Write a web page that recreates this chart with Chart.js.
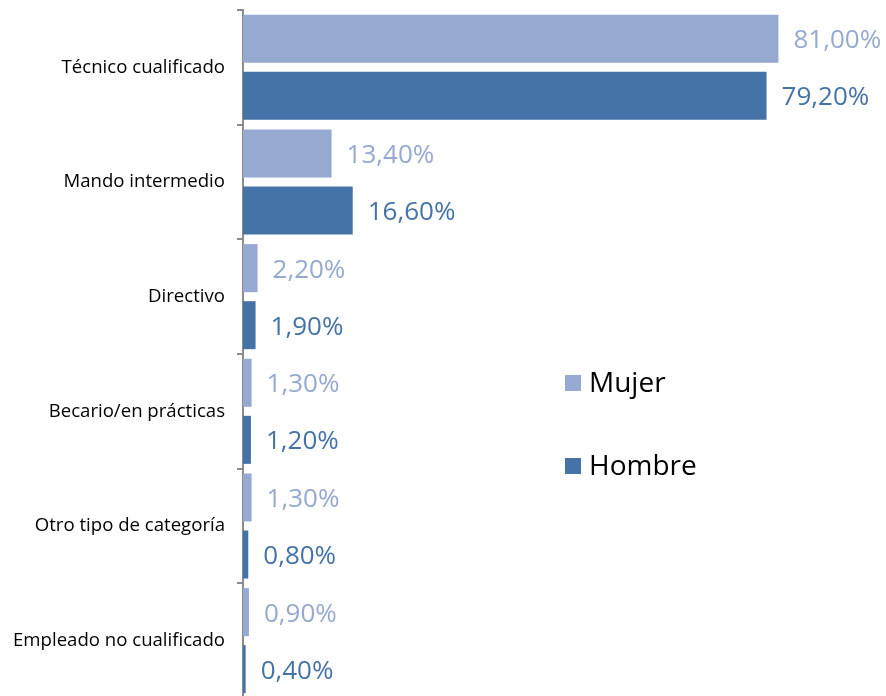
<!DOCTYPE html>
<html>
<head>
<meta charset="utf-8">
<script src="https://cdn.jsdelivr.net/npm/chart.js@4/dist/chart.umd.min.js"></script>
<style>
html,body{margin:0;padding:0;background:#fff;overflow:hidden;}
#wrap{position:relative;width:886px;height:700px;}
</style>
</head>
<body>
<div id="wrap"><canvas id="c"></canvas></div>
<script>
const categories = ["Técnico cualificado","Mando intermedio","Directivo","Becario/en prácticas","Otro tipo de categoría","Empleado no cualificado"];
const mujer = [81.0, 13.4, 2.2, 1.3, 1.3, 0.9];
const hombre = [79.2, 16.6, 1.9, 1.2, 0.8, 0.4];
const seriesNames = ["Mujer","Hombre"];
const colors = ["#95A9D1","#4573A7"];

const fmt = v => v.toFixed(2).replace('.', ',') + '%';

const labelPlugin = {
  id: 'valLabels',
  afterDatasetsDraw(chart) {
    const ctx = chart.ctx;
    ctx.save();
    ctx.font = '26px "Open Sans"';
    ctx.textBaseline = 'middle';
    ctx.textAlign = 'left';
    chart.data.datasets.forEach((ds, i) => {
      const meta = chart.getDatasetMeta(i);
      ctx.fillStyle = ds.backgroundColor;
      meta.data.forEach((bar, j) => {
        ctx.fillText(fmt(ds.data[j]), bar.x + 15, bar.y + 2);
      });
    });
    ctx.restore();
  }
};

const legendPlugin = {
  id: 'customLegend',
  afterDraw(chart) {
    const ctx = chart.ctx;
    ctx.save();
    ctx.font = '28px "Open Sans"';
    ctx.textBaseline = 'middle';
    ctx.textAlign = 'left';
    const ys = [383, 466];
    chart.data.datasets.forEach((ds, i) => {
      ctx.fillStyle = ds.backgroundColor;
      ctx.fillRect(565, ys[i] - 8, 16, 16);
      ctx.fillStyle = '#000';
      ctx.fillText(ds.label, 589, ys[i] + 1);
    });
    ctx.restore();
  }
};

new Chart(document.getElementById('c'), {
  type: 'bar',
  data: {
    labels: categories,
    datasets: [
      {label: seriesNames[0], data: mujer, backgroundColor: colors[0], categoryPercentage: 0.995, barPercentage: 0.842},
      {label: seriesNames[1], data: hombre, backgroundColor: colors[1], categoryPercentage: 0.995, barPercentage: 0.842}
    ]
  },
  options: {
    indexAxis: 'y',
    responsive: true,
    maintainAspectRatio: false,
    animation: false,
    layout: {padding: {top: 10, right: 15, bottom: 2, left: 0}},
    plugins: {legend: {display: false}, tooltip: {enabled: false}},
    scales: {
      x: {display: false, min: 0, max: 95},
      y: {
        afterFit(scale) { scale.width = 243; scale.paddingTop = 0; scale.paddingBottom = 0; },
        grid: {offset: true, drawOnChartArea: false, drawTicks: true, tickLength: 6, color: '#8c8c8c', lineWidth: 2},
        border: {display: true, color: '#8c8c8c', width: 2},
        ticks: {color: '#000', font: {family: '"Open Sans"', size: 18.6}, padding: 12}
      }
    }
  },
  plugins: [labelPlugin, legendPlugin]
});
</script>
</body>
</html>
